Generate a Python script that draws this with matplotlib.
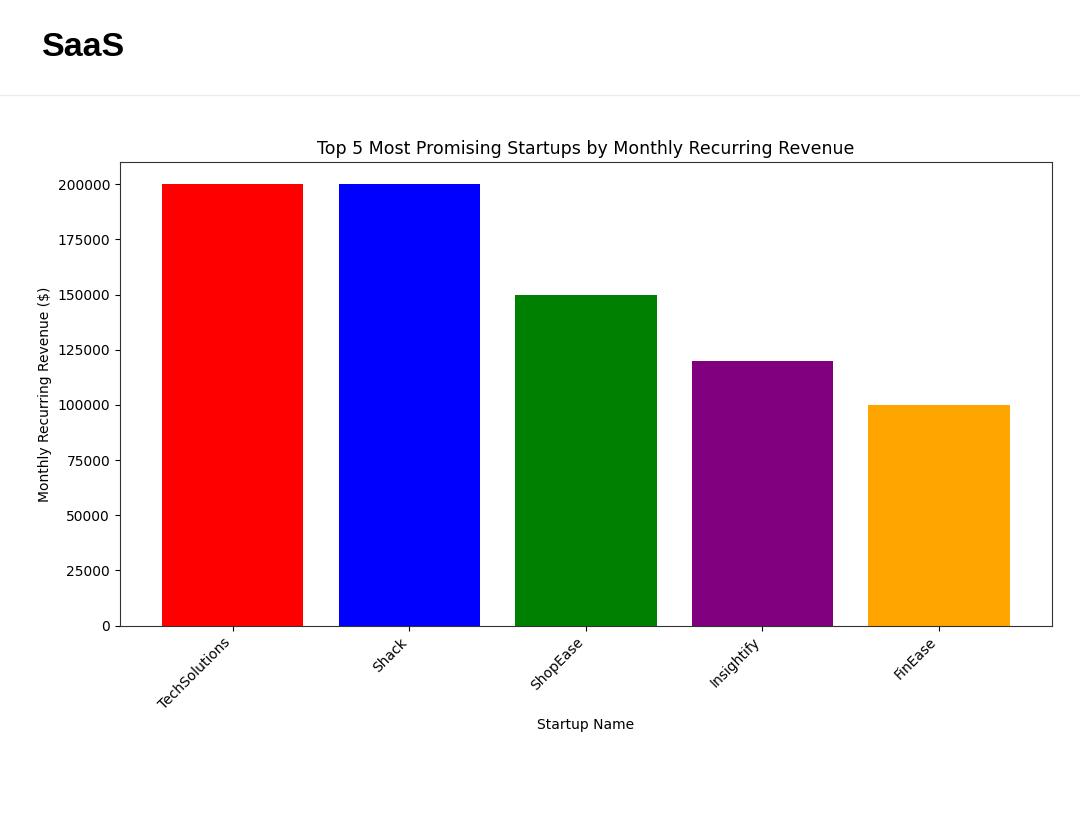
import matplotlib.pyplot as plt
from matplotlib.lines import Line2D

startups = ["TechSolutions", "Shack", "ShopEase", "Insightify", "FinEase"]
mrr = [200000, 200000, 150000, 120000, 100000]
bar_colors = ["red", "blue", "green", "purple", "orange"]

fig = plt.figure(figsize=(10.8, 8.32), dpi=100)

# page header above the chart
fig.text(0.039, 0.943, "SaaS", fontsize=24.5, fontweight="bold",
         family="Liberation Sans", va="center", ha="left")
fig.add_artist(Line2D([0, 1], [0.886, 0.886], color="#ececec", lw=1))

ax = fig.add_axes([0.111, 0.248, 0.863, 0.557])
ax.bar(startups, mrr, color=bar_colors)
ax.set_title("Top 5 Most Promising Startups by Monthly Recurring Revenue", fontsize=12.5)
ax.set_xlabel("Startup Name")
ax.set_ylabel("Monthly Recurring Revenue ($)")
plt.setp(ax.get_xticklabels(), rotation=45, ha="right")
for s in ax.spines.values():
    s.set_color("#333333")

fig.savefig("out.png", dpi=100)
